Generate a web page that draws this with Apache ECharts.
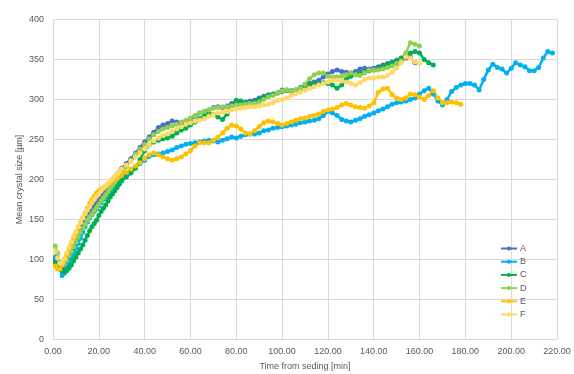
<!DOCTYPE html>
<html>
<head>
<meta charset="utf-8">
<script src="https://cdn.jsdelivr.net/npm/echarts@6/dist/echarts.min.js"></script>
<style>html,body{margin:0;padding:0;background:#fff}#c{width:574px;height:374px}</style>
</head>
<body>
<div id="c"></div>
<script>
// sampling times [min]
var times = [1,2,3,4,5,6,7,8,9,10,11,12,13,14,15,16,17,18,19,20,21,22,23,24,25,26,27,28,29,30,
  32,34,36,38,40,42,44,46,48,50,52,54,56,58,60,62,64,66,68,70,72,74,76,78,80,82,84,86,88,90,
  92,94,96,98,100,102,104,106,108,110,112,114,116,118,120,122,124,126,128,130,
  132,134,136,138,140,142,144,146,148,150,152,154,156,158,160,162,164,166,168,170,
  172,174,176,178,180,182,184,186,188,190,192,194,196,198,200,202,204,206,208,210,
  212,214,216,218];

var seriesNames = ['A','B','C','D','E','F'];

var valuesA = [100,95,90,88,90,94,100,107,114,121,128,135,142,148,154,159,163,167,171,175,179,183,187,191,195,199,203,207,210,214,
  220,226,233,240,247,253,259,265,268,270,
  273,272,270,271,274,279,283,285,287,290,
  291,290,292,295,297,296,297,298,299,302,
  304,306,307,308,310,312,311,312,315,318,
  320,322,324,328,332,335,337,335,334,333,
  335,338,339,338,339,341,343,345,347,349,
  351,352,353,346];

var valuesB = [103,97,88,80,83,90,96,101,107,114,120,127,134,141,147,152,156,160,163,167,171,175,178,182,186,189,192,195,198,200,
  205,210,215,220,224,229,231,232,233,235,
  237,240,242,244,245,246,247,248,249,248,
  247,249,251,253,252,254,256,257,257,258,
  261,262,264,265,266,267,268,269,271,272,
  273,274,276,280,285,283,280,275,273,272,
  274,276,279,281,283,286,288,291,294,296,
  297,298,300,302,307,311,314,307,298,293,
  300,310,315,318,320,320,318,312,325,337,
  344,340,338,333,339,346,343,341,336,336,
  340,352,360,358];

var valuesC = [96,92,88,86,85,86,89,93,98,103,108,113,118,124,130,136,141,145,149,155,160,164,168,173,178,182,186,190,194,198,
  203,208,214,225,236,243,247,249,251,252,
  254,258,262,264,268,272,276,279,283,281,
  278,275,282,292,299,298,296,296,297,300,
  303,305,306,308,312,311,310,312,314,316,
  318,320,320,321,320,318,314,318,325,329,
  331,333,334,336,337,339,341,344,345,348,
  352,356,358,360,358,350,346,343];

var valuesD = [117,108,96,93,95,99,105,110,116,122,128,134,139,144,149,153,157,161,165,169,173,177,181,185,189,193,197,201,205,209,
  216,224,232,238,244,251,256,260,263,265,
  267,269,272,274,277,280,283,285,287,289,
  290,291,291,292,293,293,294,295,295,297,
  300,303,305,308,311,312,310,312,314,319,
  326,331,333,333,329,328,328,329,331,333,
  331,330,333,337,337,337,338,340,342,345,
  348,358,371,369,367];

var valuesE = [92,88,88,93,100,106,113,120,127,133,140,146,152,158,164,170,175,179,183,186,188,190,192,194,196,198,200,202,204,206,
  209,213,217,221,226,231,233,231,228,226,
  224,226,228,232,236,242,246,246,246,249,
  253,258,264,268,267,263,258,257,261,266,
  271,273,272,270,268,270,272,274,276,277,
  279,280,282,285,287,288,290,293,295,293,
  291,290,289,292,296,309,313,314,306,302,
  300,302,307,306,303,300,305,311,302,296,
  296,297,296,294];

var valuesF = [110,102,95,96,101,108,115,122,129,135,141,147,152,157,162,166,171,175,179,182,186,189,192,195,198,201,204,207,210,213,
  218,223,228,233,238,243,248,252,255,257,
  260,263,266,269,271,273,274,276,279,281,
  283,284,285,287,288,289,290,291,291,292,
  293,294,296,299,300,302,305,307,309,312,
  314,316,318,320,322,324,324,323,322,320,
  318,321,325,327,327,328,328,330,334,339,
  346,353,352,347,345];

var xTicks = [0,20,40,60,80,100,120,140,160,180,200,220];
var yTicks = [0,50,100,150,200,250,300,350,400];

var colors = ['#4472C4','#00B0F0','#00B050','#92D050','#FFC000','#FFD966'];
var allValues = [valuesA, valuesB, valuesC, valuesD, valuesE, valuesF];

function pairs(vals){
  var out = [];
  for (var i = 0; i < vals.length; i++) out.push([times[i], vals[i]]);
  return out;
}

var font = 'Liberation Sans';
var chart = echarts.init(document.getElementById('c'), null, {renderer:'canvas'});
chart.setOption({
  animation: false,
  backgroundColor: '#fff',
  color: colors,
  grid: {left: 53, right: 17, top: 19.5, bottom: 34.5, containLabel: false, outerBoundsMode: 'none'},
  legend: {
    orient: 'vertical', left: 495, top: 239, itemWidth: 16, itemHeight: 5, itemGap: 4.2,
    textStyle: {fontFamily: font, fontSize: 9, lineHeight: 9, color: '#595959', padding: [0,0,0,-2]},
    data: seriesNames
  },
  xAxis: {
    type: 'value', min: xTicks[0], max: xTicks[xTicks.length-1], interval: 20,
    name: 'Time from seding [min]', nameLocation: 'middle', nameGap: 23,
    nameTextStyle: {fontFamily: font, fontSize: 9, color: '#595959'},
    axisLine: {show: true, lineStyle: {color: '#d9d9d9'}},
    axisTick: {show: false},
    axisLabel: {fontFamily: font, fontSize: 9, color: '#595959', margin: 8, formatter: function(v){return v.toFixed(2);}},
    splitLine: {show: true, lineStyle: {color: '#d9d9d9'}}
  },
  yAxis: {
    type: 'value', min: yTicks[0], max: yTicks[yTicks.length-1], interval: 50,
    name: 'Mean crystal size [µm]', nameLocation: 'middle', nameGap: 29, nameMoveOverlap: false,
    nameTextStyle: {fontFamily: font, fontSize: 9, color: '#595959'},
    axisLine: {show: false},
    axisTick: {show: false},
    axisLabel: {fontFamily: font, fontSize: 9, color: '#595959', margin: 9},
    splitLine: {show: true, lineStyle: {color: '#d9d9d9'}}
  },
  series: seriesNames.map(function(n, i){
    return {
      name: n, type: 'line', data: pairs(allValues[i]),
      symbol: 'circle', symbolSize: 5, showSymbol: true,
      lineStyle: {width: 2.5, color: colors[i]},
      itemStyle: {color: colors[i]}
    };
  })
});
</script>
</body>
</html>
